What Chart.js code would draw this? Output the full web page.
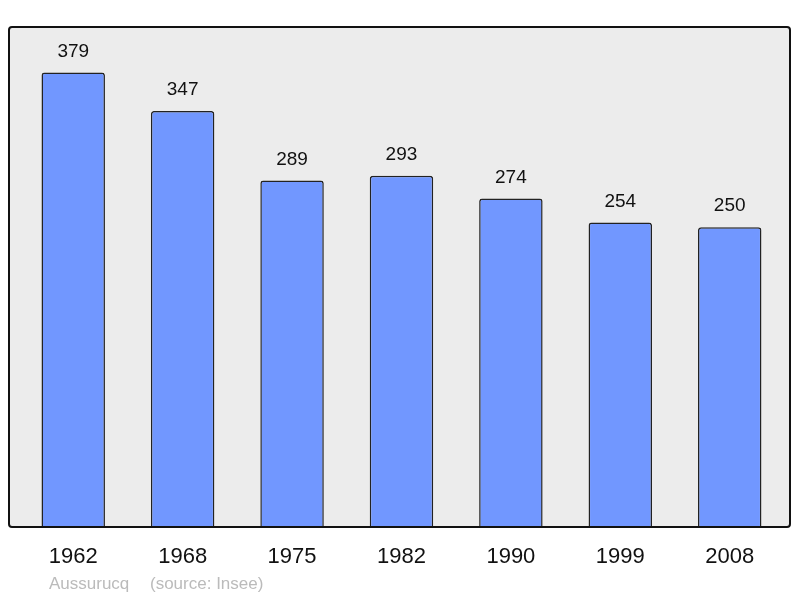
<!DOCTYPE html>
<html>
<head>
<meta charset="utf-8">
<script src="https://cdn.jsdelivr.net/npm/chart.js@4/dist/chart.umd.min.js"></script>
<style>
  html, body { margin: 0; padding: 0; background: #fff; }
  #wrap { width: 800px; height: 598px; }
</style>
</head>
<body>
<div id="wrap"><canvas id="popChart" width="800" height="598"></canvas></div>
<script>
const years = ["1962", "1968", "1975", "1982", "1990", "1999", "2008"];
const population = [379, 347, 289, 293, 274, 254, 250];
const commune = "Aussurucq";
const source = "(source: Insee)";

const FONT = "'Liberation Sans', Arial, sans-serif";

// grey frame behind the bars, value labels and the footer line
const framePlugin = {
  id: "frame",
  beforeDraw(chart) {
    const { ctx, chartArea: a } = chart;
    ctx.save();
    ctx.beginPath();
    ctx.roundRect(a.left, a.top, a.right - a.left, a.bottom - a.top, 3);
    ctx.fillStyle = "#ececec";
    ctx.fill();
    ctx.restore();
  },
  afterDatasetsDraw(chart) {
    const { ctx, chartArea: a } = chart;
    ctx.save();
    ctx.beginPath();
    ctx.roundRect(a.left, a.top, a.right - a.left, a.bottom - a.top, 3);
    ctx.lineWidth = 2;
    ctx.strokeStyle = "#111";
    ctx.stroke();

    ctx.font = "19px " + FONT;
    ctx.fillStyle = "#111";
    ctx.textAlign = "center";
    ctx.textBaseline = "middle";
    chart.getDatasetMeta(0).data.forEach((bar, i) => {
      ctx.fillText(String(population[i]), bar.x, bar.y - 21);
    });

    ctx.font = "17px " + FONT;
    ctx.fillStyle = "#bbbbbb";
    ctx.textAlign = "left";
    ctx.fillText(commune, 49, 584);
    ctx.fillText(source, 150, 584);
    ctx.restore();
  }
};

new Chart(document.getElementById("popChart"), {
  type: "bar",
  data: {
    datasets: [{
      data: population.map((v, i) => ({ x: i, y: v })),
      backgroundColor: "#7197ff",
      borderColor: "#222",
      borderWidth: 1.5,
      borderSkipped: "bottom",
      borderRadius: 3,
      barPercentage: 0.58,
      categoryPercentage: 1
    }]
  },
  options: {
    responsive: false,
    animation: false,
    layout: { padding: { left: 9, right: 10, top: 27, bottom: 0 } },
    plugins: {
      legend: { display: false },
      tooltip: { enabled: false }
    },
    scales: {
      x: {
        type: "linear",
        offset: false,
        min: -0.587,
        max: 6.551,
        grid: { display: false, drawTicks: false },
        border: { display: false },
        afterBuildTicks(axis) {
          axis.ticks = years.map((y, i) => ({ value: i }));
        },
        afterFit(axis) { axis.height = 71; },
        ticks: {
          padding: 17,
          color: "#111",
          font: { family: FONT, size: 22 },
          maxRotation: 0,
          autoSkip: false,
          callback: (v) => years[v]
        }
      },
      y: {
        min: 0,
        max: 417,
        display: false
      }
    }
  },
  plugins: [framePlugin]
});
</script>
</body>
</html>
